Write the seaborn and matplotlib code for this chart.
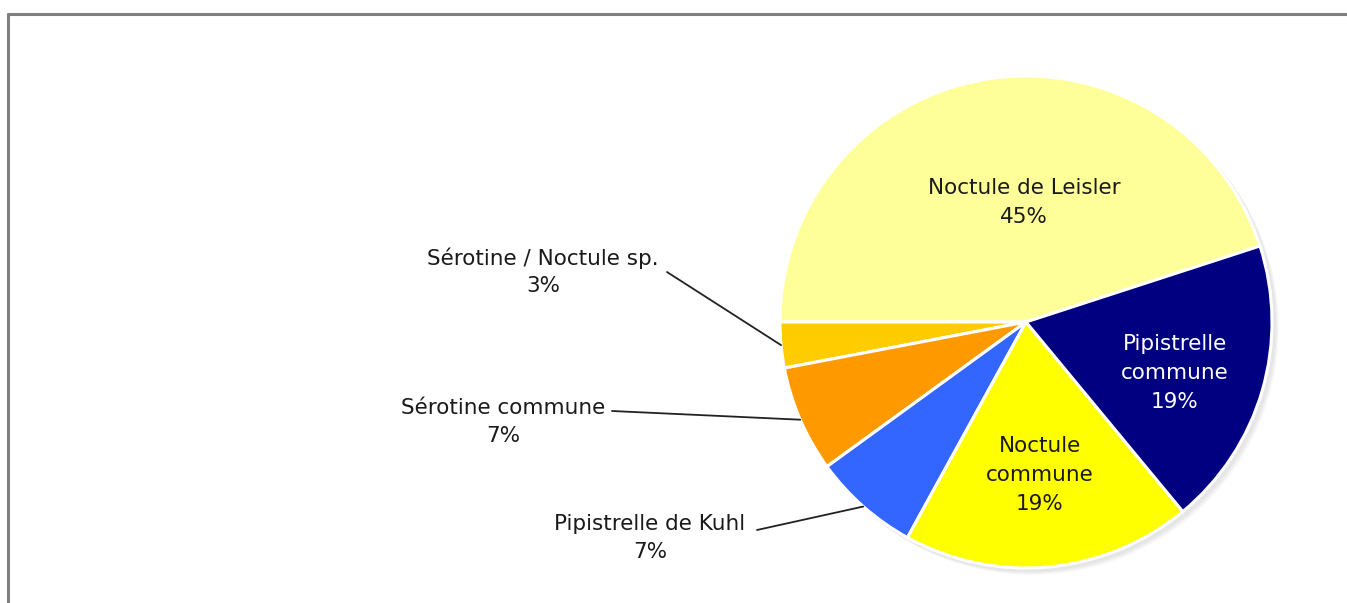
import matplotlib
matplotlib.use("Agg")
import matplotlib.pyplot as plt
import seaborn as sns
from matplotlib.lines import Line2D
import numpy as np

# Species shares (percent), listed counter-clockwise from the first wedge
species = ["Noctule de Leisler", "Sérotine / Noctule sp.", "Sérotine commune",
           "Pipistrelle de Kuhl", "Noctule commune", "Pipistrelle commune"]
shares = [45, 3, 7, 7, 19, 19]
colors = ["#FFFF99", "#FFCC00", "#FF9900", "#3366FF", "#FFFF00", "#000080"]

# Labels drawn inside the wedges (with line breaks) vs. outside with leaders
inside_text = {
    "Noctule de Leisler": "Noctule de Leisler",
    "Noctule commune": "Noctule\ncommune",
    "Pipistrelle commune": "Pipistrelle\ncommune",
}

sns.set_theme(style="white")
plt.rcParams["font.family"] = ["DejaVu Sans"]

W, H = 1347, 603
fig = plt.figure(figsize=(W / 100, H / 100), dpi=100)
ax = fig.add_axes([0, 0, 1, 1])
ax.set_xlim(0, W)
ax.set_ylim(0, H)
ax.set_aspect("equal")
ax.axis("off")

cx, cy, R = 1026, H - 322, 246

# soft shadow under the pie
for k, a in enumerate([0.05, 0.05, 0.05, 0.04]):
    ax.add_patch(plt.Circle((cx + 3 + k, cy - 3 - k), R + 1, color="#808080",
                            alpha=a, lw=0, zorder=1))

wedges, _ = ax.pie(shares, colors=colors, startangle=18, counterclock=True,
                   center=(cx, cy), radius=R, frame=True,
                   wedgeprops=dict(edgecolor="white", linewidth=2.2))
for w in wedges:
    w.set_zorder(2)
ax.set_xlim(0, W)
ax.set_ylim(0, H)
ax.axis("off")

fs = 15.5

# Inside labels: (x, y of the first line) in pixel coordinates
inside_pos = {
    "Noctule de Leisler": (1024, H - 188),
    "Noctule commune": (1040, H - 446),
    "Pipistrelle commune": (1175, H - 344),
}
text_color = {"Pipistrelle commune": "white"}

# Outside labels: name position, and leader starting point
outside_pos = {
    "Sérotine / Noctule sp.": ((543, H - 258), (667, H - 272)),
    "Sérotine commune": ((503, H - 408), (612, H - 411)),
    "Pipistrelle de Kuhl": ((650, H - 524), (757, H - 530)),
}

line_gap = 29
for name, val, w in zip(species, shares, wedges):
    mid = np.deg2rad((w.theta1 + w.theta2) / 2)
    if name in inside_text:
        x, y = inside_pos[name]
        lines = inside_text[name].split("\n") + [f"{val}%"]
        for i, ln in enumerate(lines):
            ax.text(x, y - i * line_gap, ln, ha="center", va="center",
                    fontsize=fs, color=text_color.get(name, "#1a1a1a"), zorder=5)
    else:
        (x, y), (lx, ly) = outside_pos[name]
        ax.text(x, y, name, ha="center", va="center", fontsize=fs,
                color="#1a1a1a", zorder=5)
        ax.text(x, y - 28, f"{val}%", ha="center", va="center", fontsize=fs,
                color="#1a1a1a", zorder=5)
        ex, ey = cx + R * np.cos(mid), cy + R * np.sin(mid)
        ax.add_line(Line2D([lx, ex], [ly, ey], color="#222222", lw=1.3, zorder=4))

# chart frame (top and left edges fall inside the image)
fig.add_artist(Line2D([8 / W, 8 / W], [0, 1 - 14 / H], transform=fig.transFigure,
                      color="#808080", lw=2.2))
fig.add_artist(Line2D([8 / W, 1], [1 - 14 / H, 1 - 14 / H], transform=fig.transFigure,
                      color="#808080", lw=2.2))

fig.savefig("out.png", dpi=100, facecolor="white")
